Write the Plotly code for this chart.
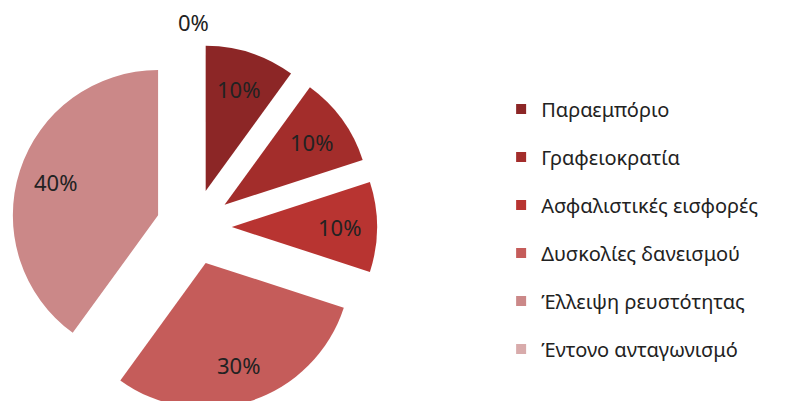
import math
import plotly.graph_objects as go

labels = ["Παραεμπόριο", "Γραφειοκρατία", "Ασφαλιστικές εισφορές",
          "Δυσκολίες δανεισμού", "Έλλειψη ρευστότητας", "Έντονο ανταγωνισμό"]
values = [10, 10, 10, 30, 40, 0]
colors = ["#8C2626", "#A32D2B", "#B83431", "#C55C5A", "#CB8888", "#D8ABAB"]
pull_amount = 0.26

W, H = 789, 402
M_L, M_R, M_T, M_B = 0, 0, 36, 0
DOM_X = [0, 372 / W]
DOM_Y = [0, 1]

fig = go.Figure()
fig.add_trace(go.Pie(
    labels=labels, values=values, sort=False, direction="clockwise", rotation=0,
    pull=[pull_amount] * len(values),
    marker=dict(colors=colors, line=dict(width=0)),
    textinfo="none",
    showlegend=False, domain=dict(x=DOM_X, y=DOM_Y),
    hoverinfo="label+percent",
))

for lab, col in zip(labels, colors):
    fig.add_trace(go.Scatter(
        x=[None], y=[None], mode="markers", name=lab, legendgroup=lab,
        marker=dict(symbol="square", size=10, color=col),
    ))

# percentage labels placed along each slice's mid-angle (Excel-style positions)
pw, ph = W - M_L - M_R, H - M_T - M_B
cx = (DOM_X[0] + DOM_X[1]) / 2            # paper fraction
cy = (DOM_Y[0] + DOM_Y[1]) / 2
r_px = min(pw * (DOM_X[1] - DOM_X[0]), ph * (DOM_Y[1] - DOM_Y[0])) / (2 + 2 * pull_amount)
total = sum(values)
cum = 0
for v in values:
    theta = 2 * math.pi * (cum + v / 2) / total
    cum += v
    k = 0.74 if v > 0 else 1.15
    dist = (pull_amount + k) * r_px
    fig.add_annotation(
        x=cx + dist * math.sin(theta) / pw, y=cy + dist * math.cos(theta) / ph,
        xref="paper", yref="paper", xanchor="center", yanchor="middle",
        showarrow=False, text=f"{round(100 * v / total)}%",
        font=dict(family="Noto Sans", size=22, color="#222222"),
    )

fig.update_layout(
    width=W, height=H,
    margin=dict(l=M_L, r=M_R, t=M_T, b=M_B),
    paper_bgcolor="white", plot_bgcolor="white",
    xaxis=dict(visible=False), yaxis=dict(visible=False),
    font=dict(family="Noto Sans", color="#222222"),
    legend=dict(x=0.625, y=0.876, xanchor="left", yanchor="top",
                font=dict(family="Noto Sans", size=20, color="#222222"),
                tracegroupgap=19, itemclick=False, maxheight=400),
)

fig.write_html("out.html")
